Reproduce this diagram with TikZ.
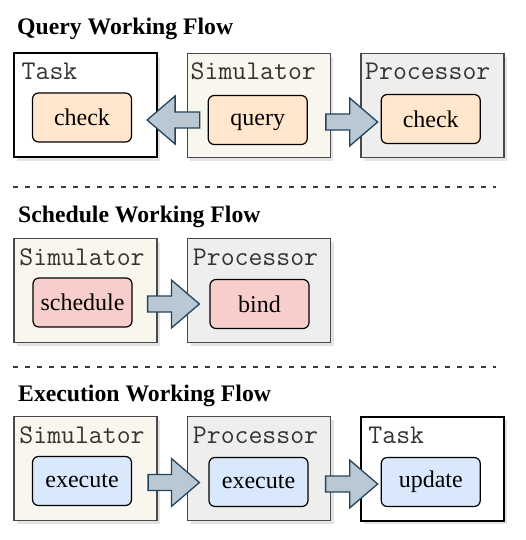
\documentclass[tikz,border=0pt]{standalone}
\usepackage{fontspec}
\setmainfont{Liberation Serif}
\usepackage{tikz}
\usetikzlibrary{positioning,shadows,calc}
\definecolor{simfill}{HTML}{F9F7ED}
\definecolor{procfill}{HTML}{EEEEEE}
\definecolor{boxline}{HTML}{48494C}
\definecolor{peach}{HTML}{FFE6CC}
\definecolor{rose}{HTML}{F8CECC}
\definecolor{skyblue}{HTML}{DAE8FC}
\definecolor{arrowfill}{HTML}{BAC8D3}
\definecolor{arrowline}{HTML}{23445D}
\definecolor{taggray}{HTML}{333333}
\definecolor{sepgray}{HTML}{3A3B3E}
\tikzstyle{actor}=[%
      rectangle, draw=boxline, line width=1.5pt, minimum width=143pt, minimum height=104pt,
      drop shadow={opacity=0.22, shadow xshift=3pt, shadow yshift=-3.5pt}
]
\tikzstyle{sim}=[actor, fill=simfill]
\tikzstyle{proc}=[actor, fill=procfill]
\tikzstyle{task}=[actor, draw=black, line width=2pt, fill=white]
\tikzstyle{op}=[%
      rectangle, rounded corners=6pt, draw=black, line width=1.2pt,
      minimum width=99pt, minimum height=49pt, font=\fontsize{24}{27}\selectfont
]
\tikzstyle{tag}=[anchor=base west, inner sep=0pt, text=taggray, font=\fontsize{27}{28}\selectfont\ttfamily]
\tikzstyle{title}=[anchor=base west, inner sep=0pt, font=\fontsize{23.7}{26}\selectfont\bfseries]
\tikzstyle{sep}=[draw=sepgray, line width=2pt, dash pattern=on 5pt off 7pt]
\tikzstyle{fat}=[draw=arrowline, fill=arrowfill, line width=1.3pt, line join=miter]
% #1 tail, #2 tip (same height)
\newcommand{\fatarrow}[2]{%
  \draw[fat] ($#1+(0,8)$) -- ($#2!28pt!#1+(0,8)$) -- ($#2!28pt!#1+(0,24)$) -- #2
    -- ($#2!28pt!#1+(0,-24)$) -- ($#2!28pt!#1+(0,-8)$) -- ($#1+(0,-8)$) -- cycle;
}

\begin{document}
\begin{tikzpicture}[x=1pt, y=-1pt]
  \useasboundingbox (0,0) rectangle (526,540);

  % query
  \node[title] (t1) at (17,35) {Query Working Flow};
  \node[task] (task1) at (85,105.5) {};
  \node[sim]  (sim1)  [right = 29pt of task1] {};
  \node[proc] (proc1) [right = 29pt of sim1] {};
  \node[tag] (task1l) at ($(task1.north west)+(9,27)$) {Task};
  \node[tag] (sim1l)  at ($(sim1.north west)+(4,27)$) {Simulator};
  \node[tag] (proc1l) at ($(proc1.north west)+(5,27)$) {Processor};
  \node[op, fill=peach] (check1) at ($(task1.center)+(-3,12)$) {check};
  \node[op, fill=peach, text depth=1pt] (query) at ($(sim1.center)+(-1,14.5)$) {query};
  \node[op, fill=peach] (check2) at ($(proc1.center)+(-1.5,13.5)$) {check};
  \coordinate (qa) at ($(query.west)+(-8,0)$);
  \coordinate (qb) at ($(query.west -| check1.east)+(15,0)$);
  \coordinate (qc) at ($(query.east)+(18,2)$);
  \coordinate (qd) at ($(query.east -| check2.west)+(-3,2)$);
  \fatarrow{(qa)}{(qb)}
  \fatarrow{(qc)}{(qd)}

  \draw[sep] (13,187) -- (496,187);

  % schedule
  \node[title] (t2) at (18,222) {Schedule Working Flow};
  \node[sim]  (sim2)  at (85.5,290.5) {};
  \node[proc] (proc2) [right = 29pt of sim2] {};
  \node[tag] (sim2l)  at ($(sim2.north west)+(6,28)$) {Simulator};
  \node[tag] (proc2l) at ($(proc2.north west)+(6,28)$) {Processor};
  \node[op, fill=rose] (schedule) at ($(sim2.center)+(-3,12)$) {schedule};
  \node[op, fill=rose] (bind)     at ($(proc2.center)+(0.5,13.5)$) {bind};
  \coordinate (sa) at ($(schedule.east)+(15,1.5)$);
  \coordinate (sb) at ($(schedule.east -| bind.west)+(-10,1.5)$);
  \fatarrow{(sa)}{(sb)}

  \draw[sep] (13,367) -- (496,367);

  % execution
  \node[title] (t3) at (18,401) {Execution Working Flow};
  \node[sim]  (sim3)  at (85.5,468.5) {};
  \node[proc] (proc3) [right = 29pt of sim3] {};
  \node[task] (task3) [right = 29pt of proc3] {};
  \node[tag] (sim3l)  at ($(sim3.north west)+(6,28)$) {Simulator};
  \node[tag] (proc3l) at ($(proc3.north west)+(6,28)$) {Processor};
  \node[tag] (task3l) at ($(task3.north west)+(8,28)$) {Task};
  \node[op, fill=skyblue] (exec1)  at ($(sim3.center)+(-3.5,12.5)$) {execute};
  \node[op, fill=skyblue] (exec2)  at ($(proc3.center)+(-0.5,13.5)$) {execute};
  \node[op, fill=skyblue] (update) at ($(task3.center)+(-2,13.5)$) {update};
  \coordinate (ea) at ($(exec1.east)+(16,1.5)$);
  \coordinate (eb) at ($(exec1.east -| exec2.west)+(-9,1.5)$);
  \coordinate (ec) at ($(exec2.east)+(17,2)$);
  \coordinate (ed) at ($(exec2.east -| update.west)+(-3,2)$);
  \fatarrow{(ea)}{(eb)}
  \fatarrow{(ec)}{(ed)}
\end{tikzpicture}
\end{document}
